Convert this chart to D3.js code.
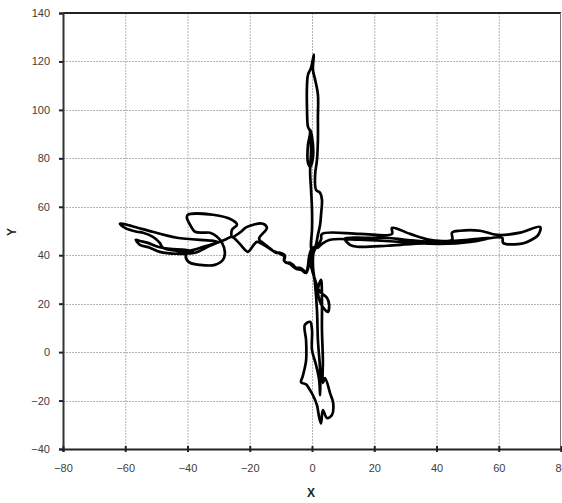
<!DOCTYPE html>
<html>
<head>
<meta charset="utf-8">
<script src="https://cdn.jsdelivr.net/npm/d3@7"></script>
<style>
  html, body { margin: 0; padding: 0; background: #fff; }
  svg { display: block; }
  text { font-family: "Liberation Sans", Arial, sans-serif; }
</style>
</head>
<body>
<svg id="chart" width="562" height="503"></svg>
<script>
// Axis ticks
const xTicks = [-80, -60, -40, -20, 0, 20, 40, 60, 80];
const yTicks = [-40, -20, 0, 20, 40, 60, 80, 100, 120, 140];
const xTitle = "X";
const yTitle = "Y";

// Recorded track, in order: out to the left, up, down, then right
const trackX = [
  0.3, -0.3, -1.0, -1.3, -1.9, -2.9, -3.9, -5.1, -6.1, -7.1, -8.4, -9.0, -8.7, -10.3, -11.6, -12.9, -14.1, -15.4, -17.0,
  -14.5, -15.8, -20.9, -23.2, -25.7,
  -25.7, -24.1, -25.7, -31.8, -39.9, -40.2, -39.2, -37.6, -35.0, -32.8, -30.5,
  -28.9, -28.0, -28.6, -31.2, -36.0, -39.2, -40.5, -39.9, -37.0, -33.8, -30.5,
  -43.4, -54.7, -61.7, -60.1, -56.3, -54.3, -51.1, -48.9, -47.9, -43.4, -38.3,
  -40.8, -45.7, -49.5, -52.7, -55.3, -56.6, -55.3, -52.1, -48.9, -43.4, -37.6, -32.8, -28.0, -25.7,
  -23.8, -21.5, -20.6, -17.7,
  -16.1, -14.1, -12.5, -10.3, -8.7, -9.0, -7.1, -5.1, -3.5, -1.9, -1.0, -0.3, 0.3,
  1.0, 1.9, 2.6, 2.9, 3.2, 2.6, 1.3, 1.0, 1.6, 1.9, 1.9, 1.9, 1.0, 0.3, 0.6,
  -0.3, -1.3, -1.6, -1.6, -1.3, -0.6, -1.3, -1.3, -0.6, 0.3, 0.0, -0.6,
  -0.3, -0.6, -0.3, 0.0, 0.0, -0.3,
  0.3, -0.6, 1.0, 2.6, 4.8, 5.5, 5.1, 3.9, 2.6, 1.9, 2.9, 3.2, 3.2, 3.5, 3.5,
  4.2, 5.8, 6.8, 6.4, 4.8, 3.5, 2.9, 2.3, 1.6, 0.3, -1.0, -1.9, -3.5, -2.9, -1.9, -1.9, -2.3,
  -0.6, 0.0, 0.0, 1.3, 2.3, 2.6, 2.6, 1.9, 1.6, 1.0, 0.3, 0.6,
  2.9, 3.2, 15.4, 25.7, 25.7, 31.5, 37.9, 45.0, 45.0, 47.6, 54.0, 59.5, 66.9, 73.3,
  72.7, 69.1, 66.9, 61.4, 61.1, 54.0, 47.6, 41.2, 32.5, 24.1, 14.5, 12.2, 10.6,
  17.0, 24.1, 29.9, 37.9, 50.8, 57.2, 50.8, 41.2, 28.3, 15.4, 5.8, 3.2, 1.9
];
const trackY = [
  43.1, 42.2, 38.9, 35.6, 33.1, 34.0, 34.8, 34.8, 36.0, 36.9, 36.9, 38.5, 39.8, 41.0, 41.0, 42.2, 43.5, 44.7, 46.8,
  51.3, 53.0, 51.7, 49.3, 47.6,
  50.5, 52.6, 54.6, 56.7, 56.7, 55.5, 52.6, 49.7, 49.3, 49.3, 47.6,
  45.1, 41.4, 38.1, 36.0, 36.0, 36.9, 38.9, 41.4, 42.6, 43.9, 45.5,
  47.2, 50.9, 53.0, 51.3, 49.7, 49.3, 47.6, 45.1, 43.1, 41.8, 41.4,
  42.2, 42.6, 43.5, 45.1, 45.9, 46.4, 44.3, 43.1, 41.4, 40.6, 41.0, 43.9, 46.4, 47.6,
  45.5, 42.2, 41.4, 45.5,
  44.7, 43.1, 41.8, 40.6, 39.3, 37.7, 36.4, 34.4, 34.0, 32.7, 36.0, 40.2, 43.1,
  43.5, 48.4, 52.6, 56.7, 62.9, 65.8, 67.0, 73.2, 79.4, 87.7, 96.8, 106.3, 112.5, 116.6, 122.8,
  117.4, 114.5, 110.4, 100.1, 93.1, 91.0, 85.6, 78.2, 76.5, 80.2, 88.9, 91.8,
  84.0, 74.5, 67.0, 58.8, 50.5, 43.1,
  41.4, 38.1, 29.8, 24.9, 22.4, 19.5, 16.6, 17.9, 20.7, 25.7, 29.8, 21.6, 9.2, -3.2, -12.7,
  -10.7, -16.9, -21.0, -26.0, -27.2, -23.9, -29.4, -26.9, -21.9, -17.8, -14.9, -13.3, -12.5, -9.6, -3.4, 4.9, 11.2,
  12.5, 9.2, 0.9, -5.3, -11.6, -17.8, -7.5, 5.0, 17.4, 27.8, 36.0, 41.4,
  46.4, 48.8, 48.8, 48.8, 51.3, 48.8, 46.4, 46.4, 49.3, 50.1, 50.1, 48.4, 49.3, 51.7,
  48.4, 45.5, 44.7, 45.1, 47.2, 46.4, 45.5, 45.1, 44.7, 43.9, 43.5, 44.3, 46.8,
  47.2, 47.2, 46.4, 45.5, 46.4, 47.2, 45.5, 44.7, 45.5, 46.4, 46.4, 44.7, 43.1
];

const svg = d3.select("#chart");
const plot = { left: 63, right: 561, top: 13, bottom: 449 };

const x = d3.scaleLinear().domain([-80, 80]).range([plot.left, plot.right]);
const y = d3.scaleLinear().domain([-40, 140]).range([plot.bottom, plot.top]);

// Dotted grid
const grid = svg.append("g");
grid.selectAll("line.v").data(xTicks.slice(1, -1)).join("line")
  .attr("x1", d => x(d) + 0.5).attr("x2", d => x(d) + 0.5)
  .attr("y1", plot.top).attr("y2", plot.bottom)
  .attr("stroke", "#b4b4b4").attr("stroke-width", 1).attr("stroke-dasharray", "2,1");
grid.selectAll("line.h").data(yTicks.slice(1, -1)).join("line")
  .attr("y1", d => Math.round(y(d)) + 0.5).attr("y2", d => Math.round(y(d)) + 0.5)
  .attr("x1", plot.left).attr("x2", plot.right)
  .attr("stroke", "#b4b4b4").attr("stroke-width", 1).attr("stroke-dasharray", "2,1");

// Frame: top and right edges
svg.append("line").attr("x1", plot.left).attr("x2", plot.right)
  .attr("y1", plot.top).attr("y2", plot.top)
  .attr("stroke", "#222").attr("stroke-width", 2);
svg.append("line").attr("x1", plot.right - 0.5).attr("x2", plot.right - 0.5)
  .attr("y1", plot.top).attr("y2", plot.bottom)
  .attr("stroke", "#777").attr("stroke-width", 1);

// Track
const pts = trackX.map((v, i) => [v, trackY[i]]);
const line = d3.line().x(d => x(d[0])).y(d => y(d[1])).curve(d3.curveCatmullRom.alpha(0.5));
svg.append("path").attr("d", line(pts))
  .attr("fill", "none").attr("stroke", "#000").attr("stroke-width", 2.7)
  .attr("stroke-linejoin", "round").attr("stroke-linecap", "round");

// Y axis
const yAxis = svg.append("g").attr("transform", `translate(${plot.left},0)`)
  .call(d3.axisLeft(y).tickValues(yTicks).tickSize(4).tickPadding(9).tickFormat(d3.format("d")));
yAxis.select(".domain").attr("stroke", "#333").attr("stroke-width", 2);
yAxis.selectAll(".tick line").attr("stroke", "#222").attr("stroke-width", 2);
yAxis.selectAll(".tick text").attr("fill", "#404040").attr("font-size", 11)
  .attr("font-family", "Liberation Sans, Arial, sans-serif");

// X axis, ticks cross the axis line
const xAxis = svg.append("g").attr("transform", `translate(0,${plot.bottom})`)
  .call(d3.axisBottom(x).tickValues(xTicks).tickSize(3).tickPadding(12).tickFormat(d3.format("d")));
xAxis.select(".domain").attr("stroke", "#222").attr("stroke-width", 2);
xAxis.selectAll(".tick line").attr("y1", -3).attr("stroke", "#222").attr("stroke-width", 2);
xAxis.selectAll(".tick text").attr("fill", "#404040").attr("font-size", 11)
  .attr("font-family", "Liberation Sans, Arial, sans-serif");

// Axis titles
svg.append("text").attr("x", 311).attr("y", 497).attr("text-anchor", "middle")
  .attr("font-size", 12).attr("font-weight", "bold").attr("fill", "#222").text(xTitle);
svg.append("text").attr("transform", "translate(16,232) rotate(-90)").attr("text-anchor", "middle")
  .attr("font-size", 12).attr("font-weight", "bold").attr("fill", "#222").text(yTitle);
</script>
</body>
</html>
